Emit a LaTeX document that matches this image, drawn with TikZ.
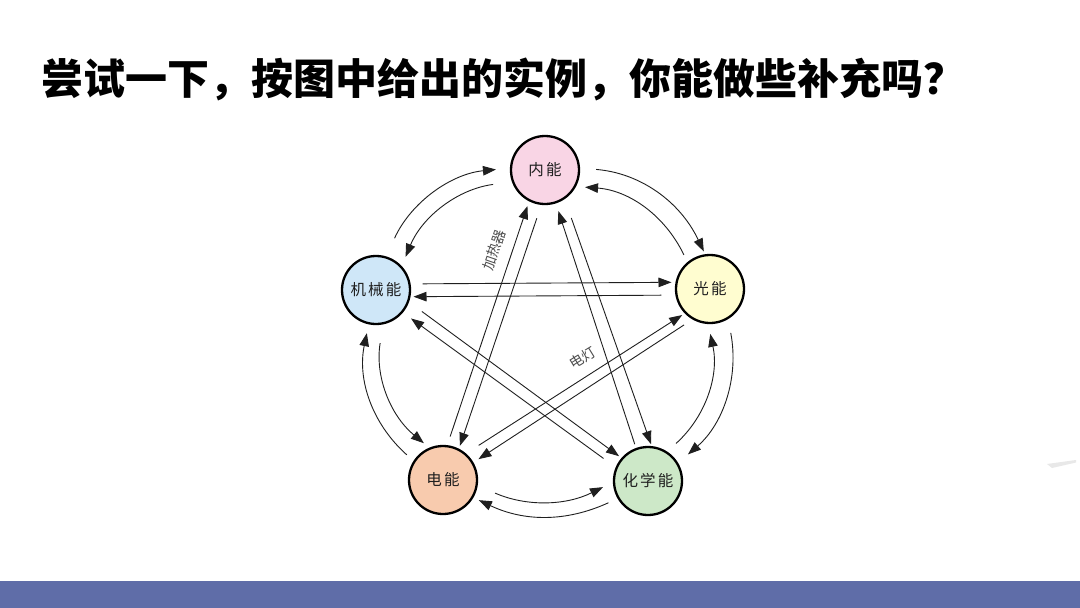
\documentclass[tikz,border=0pt]{standalone}
\usepackage{fontspec}
\newfontfamily\cjk{Noto Sans CJK SC}
\newfontfamily\cjkn[LetterSpace=14]{Noto Sans CJK SC}
\usetikzlibrary{arrows.meta}
\definecolor{npink}{HTML}{F9D5E5}
\definecolor{nblue}{HTML}{CFE7F8}
\definecolor{nyellow}{HTML}{FFFDD0}
\definecolor{npeach}{HTML}{F8CBAE}
\definecolor{ngreen}{HTML}{CDE8C8}
\definecolor{band}{HTML}{5F6DA8}
\tikzset{
  en/.style={circle, draw=black, line width=2.3pt, minimum size=68pt, inner sep=0pt,
    font=\cjkn\fontsize{15.5}{15.5}\selectfont, text=black!88},
  arr/.style={-{Triangle[length=13pt,width=9.5pt]}, line width=0.9pt, draw=black!88},
  lbl/.style={font=\cjk\fontsize{14}{14}\selectfont, text=black!70, inner sep=1pt},
  ttl/.style={anchor=west, inner sep=0pt, font=\cjk\bfseries\fontsize{42}{44}\selectfont}
}
\begin{document}
\begin{tikzpicture}[x=1pt,y=1pt]
\useasboundingbox (0,0) rectangle (1080,-608);
\fill[white] (0,0) rectangle (1080,-608);
% title
\node[ttl] (title) at (41,-79) {尝试一下，按图中给出的实例，你能做些补充吗？};
% bottom band
\fill[band] (0,-581) rectangle (1080,-608);
% faint streak
\fill[gray!18] (1047,-464) -- (1076,-460) -- (1076,-462.5) -- (1052,-468) -- cycle;
% nodes
\node[en, fill=npink]   (N) at (545,-170) {内能};
\node[en, fill=nblue]   (M) at (376,-290) {机械能};
\node[en, fill=nyellow] (G) at (710,-289) {光能};
\node[en, fill=npeach]  (E) at (443,-480) {电能};
\node[en, fill=ngreen]  (C) at (648,-481) {化学能};
% curved arrows between neighbours
\draw[arr, shorten <=20pt, shorten >=14pt] (M.73)  to[bend left=30]  (N.177);
\draw[arr, shorten <=19pt, shorten >=10pt] (N.200) to[bend right=30] (M.43);
\draw[arr, shorten <=16pt, shorten >=3pt]  (N.3)   to[bend left=30]  (G.98);
\draw[arr, shorten <=8pt,  shorten >=9pt]  (G.130) to[bend right=30] (N.-28);
\draw[arr, shorten <=14pt, shorten >=13pt] (G.-59) to[bend left=30]  (C.31);
\draw[arr, shorten <=12pt, shorten >=10pt] (C.57)  to[bend right=30] (G.-93);
\draw[arr, shorten <=19pt, shorten >=11pt] (E.-9)  to[bend right=25] (C.182);
\draw[arr, shorten <=10pt, shorten >=6pt]  (C.-150) to[bend left=25] (E.-30);
\draw[arr, shorten <=19pt, shorten >=7pt]  (M.-78) to[bend right=30] (E.113);
\draw[arr, shorten <=9pt,  shorten >=9pt]  (E.147) to[bend left=30]  (M.-102);
% straight arrows
\draw[arr, shorten <=12pt, shorten >=4pt]  (M.10)   -- (G.169);
\draw[arr, shorten <=14pt, shorten >=3pt]  (G.190)  -- (M.-11);
\draw[arr, shorten <=9pt,  shorten >=5pt]  (E.83)   -- (N.-117);
\draw[arr, shorten <=14pt, shorten >=3pt]  (N.-96)  -- (E.63);
\draw[arr, shorten <=4pt,  shorten >=8pt]  (C.110)  -- (N.-72);
\draw[arr, shorten <=20pt, shorten >=2pt]  (N.-56)  -- (C.84);
\draw[arr, shorten <=15pt, shorten >=10pt] (C.157)  -- (M.-40);
\draw[arr, shorten <=16pt, shorten >=3pt]  (M.-20)  -- (C.139);
\draw[arr, shorten <=15pt, shorten >=3pt]  (E.49)   -- (G.-136);
\draw[arr, shorten <=10pt, shorten >=6pt]  (G.-120) -- (E.30);
% labels
\node[lbl, rotate=71]   (heater) at (494,-250) {加热器};
\node[lbl, rotate=31.6] (lamp)   at (583,-358) {电灯};
\end{tikzpicture}
\end{document}
